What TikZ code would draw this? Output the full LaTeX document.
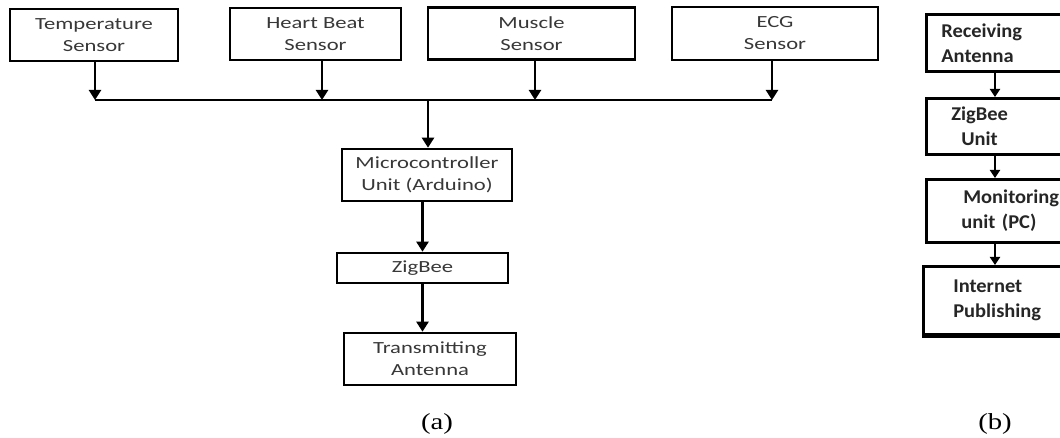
\documentclass[tikz,border=0pt]{standalone}
\usepackage{fontspec}
\setmainfont{Carlito}
\newfontfamily\leftfont[FakeStretch=1.33]{Carlito}
\newfontfamily\rightfont[FakeStretch=1.05]{Carlito}
\newfontfamily\capfont[FakeStretch=1.25]{Liberation Serif}
\usetikzlibrary{arrows.meta}
\definecolor{txtgray}{HTML}{383838}
\definecolor{txtdark}{HTML}{262626}
\begin{document}
\begin{tikzpicture}[x=1pt,y=-1pt,
  lbox/.style={draw=black,line width=2.6pt,inner sep=0pt,align=center,
    font=\leftfont\fontsize{17}{22}\selectfont,text=txtgray},
  rbox/.style={draw=black,line width=2.6pt,inner xsep=15pt,inner ysep=0pt,align=left,
    anchor=north west,minimum width=160pt,text width=130pt,
    font=\rightfont\bfseries\fontsize{19.5}{25}\selectfont,text=txtdark},
  arr/.style={line width=2.3pt,-{Triangle[width=12pt,length=10pt]}},
  sarr/.style={line width=2.3pt,-{Triangle[width=10pt,length=8pt]}},
  bus/.style={line width=2.3pt},
  caption/.style={font=\capfont\fontsize{23}{26}\selectfont,text=black}]
\useasboundingbox (0,0) rectangle (1060,438);
\clip (0,0) rectangle (1060,438);
\fill[white] (0,0) rectangle (1060,438);
% (a) sensors
\node[lbox,minimum width=168pt,minimum height=52pt] (temp) at (94,35) {Temperature\\Sensor};
\node[lbox,minimum width=171pt,minimum height=52pt] (heart) at (315.5,34) {Heart Beat\\Sensor};
\node[lbox,minimum width=207pt,minimum height=52pt] (muscle) at (531.5,33.5) {Muscle\\Sensor};
\node[lbox,minimum width=206pt,minimum height=53pt] (ecg) at (775,33.5) {ECG\\Sensor};
\coordinate (j1) at (95,100);
\coordinate (j2) at (322,100);
\coordinate (j3) at (535,100);
\coordinate (j4) at (772,100);
\coordinate (jm) at (428,100);
\node[lbox,minimum width=170pt,minimum height=52pt] (micro) at (427,175) {Microcontroller\\Unit (Arduino)};
\node[lbox,minimum width=171pt,minimum height=30pt] (zig) at (422.5,268) {ZigBee};
\node[lbox,minimum width=172pt,minimum height=52pt] (trans) at (430,359) {Transmitting\\Antenna};
\draw[bus] (j1) -- (j4);
\draw[arr] (j1 |- temp.south) -- (j1);
\draw[arr] (j2 |- heart.south) -- (j2);
\draw[arr] (j3 |- muscle.south) -- (j3);
\draw[arr] (j4 |- ecg.south) -- (j4);
\draw[arr] (jm) -- (jm |- micro.north);
\draw[arr] (zig.north |- micro.south) -- (zig.north);
\draw[arr] (zig.south) -- (zig.south |- trans.north);
\node[caption] (capa) at (437,424) {(a)};
% (b) receiver
\node[rbox,minimum height=57pt] (recv) at (925,13) {Receiving\\Antenna};
\node[rbox,minimum height=56pt] (zunit) at (925,97) {\hspace*{10pt}ZigBee\\\hspace*{20pt}Unit};
\node[rbox,minimum height=63pt] (mon) at (925,178) {\hspace*{22pt}Monitoring\\\hspace*{20pt}unit (PC)};
\node[rbox,minimum height=68pt] (inet) at (922,265) {\hspace*{15pt}Internet\\\hspace*{15pt}Publishing};
\draw[line width=4.5pt] (inet.south west) -- (inet.south east);
\coordinate (rx) at (995,0);
\draw[sarr] (rx |- recv.south) -- (rx |- zunit.north);
\draw[sarr] (rx |- zunit.south) -- (rx |- mon.north);
\draw[sarr] (rx |- mon.south) -- (rx |- inet.north);
\node[caption] (capb) at (995,424) {(b)};
\end{tikzpicture}
\end{document}
